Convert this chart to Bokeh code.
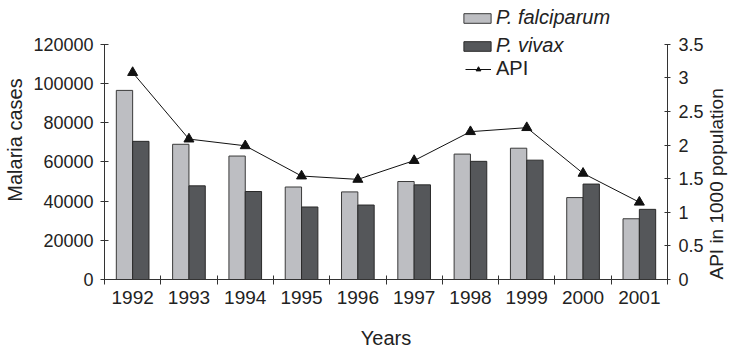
import math
from bokeh.plotting import figure
from bokeh.models import (ColumnDataSource, Range1d, LinearAxis, FixedTicker,
                          NumeralTickFormatter, Legend, LegendItem)
from bokeh.transform import dodge
from bokeh.embed import file_html
from bokeh.resources import INLINE

years = [1992, 1993, 1994, 1995, 1996, 1997, 1998, 1999, 2000, 2001]
falciparum = [96500, 69000, 63000, 47200, 44700, 50000, 64000, 67000, 41800, 31000]
vivax = [70500, 47800, 44900, 37000, 38000, 48300, 60300, 60900, 48700, 35800]
api = [3.08, 2.09, 1.99, 1.54, 1.49, 1.77, 2.2, 2.26, 1.58, 1.15]

cases_ticks = [0, 20000, 40000, 60000, 80000, 100000, 120000]
api_ticks = [0, 0.5, 1, 1.5, 2, 2.5, 3, 3.5]
year_edges = [1991.5 + i for i in range(11)]

src = ColumnDataSource(dict(year=years, fal=falciparum, viv=vivax, api=api))

FONT = "Liberation Sans"
TXT = "#222222"
AX = "#333333"

# plot frame spans the full height above the x axis so the legend is not clipped;
# the axes themselves are bounded to their data extent (0..120000 and 0..3.5)
FRAME_H = 280
AXIS_H = 236
cases_top = cases_ticks[-1] * FRAME_H / AXIS_H
api_top = api_ticks[-1] * FRAME_H / AXIS_H

p = figure(width=740, height=351, output_backend="svg", toolbar_location=None,
           x_range=Range1d(1991.5, 2001.5), y_range=Range1d(0, cases_top),
           x_axis_type=None, y_axis_type=None,
           min_border_left=104, min_border_right=67, min_border_top=0, min_border_bottom=71)
p.outline_line_color = None
p.grid.visible = False
p.background_fill_color = "white"
p.extra_y_ranges = {"api": Range1d(0, api_top)}

r_fal = p.vbar(x=dodge("year", -0.145, range=p.x_range), top="fal", width=0.29, source=src,
               fill_color="#bdbec2", line_color="#3a3a3a", line_width=1)
r_viv = p.vbar(x=dodge("year", 0.145, range=p.x_range), top="viv", width=0.29, source=src,
               fill_color="#55575a", line_color="#2a2a2a", line_width=1)
r_line = p.line(x="year", y="api", source=src, y_range_name="api", line_color="#111111", line_width=1)
r_pts = p.scatter(x="year", y="api", source=src, y_range_name="api", marker="triangle",
                  size=10, fill_color="#111111", line_color="#111111")

def style_axis(ax, size="18px"):
    ax.axis_line_color = AX
    ax.major_tick_line_color = AX
    ax.minor_tick_line_color = AX
    ax.major_label_text_font = FONT
    ax.major_label_text_font_size = size
    ax.major_label_text_color = TXT
    ax.axis_label_text_font = FONT
    ax.axis_label_text_font_size = "20px"
    ax.axis_label_text_font_style = "normal"
    ax.axis_label_text_color = TXT

xax = LinearAxis(ticker=FixedTicker(ticks=years, minor_ticks=year_edges), axis_label="Years")
style_axis(xax, "19px")
xax.major_tick_in = 0
xax.major_tick_out = 0
xax.minor_tick_in = 4
xax.minor_tick_out = 5
xax.major_label_standoff = 6
xax.axis_label_standoff = 20
p.add_layout(xax, "below")

yax = LinearAxis(ticker=FixedTicker(ticks=cases_ticks), axis_label="Malaria cases",
                 formatter=NumeralTickFormatter(format="0"), bounds=(0, cases_ticks[-1]))
style_axis(yax)
yax.major_tick_in = 4
yax.major_tick_out = 4
yax.minor_tick_out = 0
yax.minor_tick_in = 0
yax.major_label_standoff = 7
yax.axis_label_standoff = 4
p.add_layout(yax, "left")

ryax = LinearAxis(y_range_name="api", ticker=FixedTicker(ticks=api_ticks),
                  axis_label="API in 1000 population",
                  formatter=NumeralTickFormatter(format="0.[0]"), bounds=(0, api_ticks[-1]))
style_axis(ryax)
ryax.axis_label_text_font_size = "19px"
ryax.major_tick_in = 3
ryax.major_tick_out = 3
ryax.minor_tick_out = 0
ryax.minor_tick_in = 0
ryax.major_label_standoff = 8
ryax.axis_label_standoff = 10
ryax.axis_label_orientation = math.pi / 2
ryax.axis_label_align = "start"
p.add_layout(ryax, "right")

def make_legend(label, renderers, loc, style, gw, standoff):
    return Legend(items=[LegendItem(label=label, renderers=renderers)], location=loc,
                  orientation="vertical",
                  glyph_width=gw, glyph_height=12, label_height=12, spacing=0,
                  label_standoff=standoff, padding=0, margin=0,
                  border_line_color=None, background_fill_alpha=0,
                  label_text_font=FONT, label_text_font_size="20px",
                  label_text_color=TXT, label_text_font_style=style)

p.add_layout(make_legend("P. falciparum", [r_fal], (356, 250), "italic", 34, 2), "center")
p.add_layout(make_legend("P. vivax", [r_viv], (356, 222), "italic", 34, 2), "center")
p.add_layout(make_legend("API", [r_line, r_pts], (361, 199), "normal", 26, 5), "center")

open("out.html", "w").write(file_html(p, INLINE))
